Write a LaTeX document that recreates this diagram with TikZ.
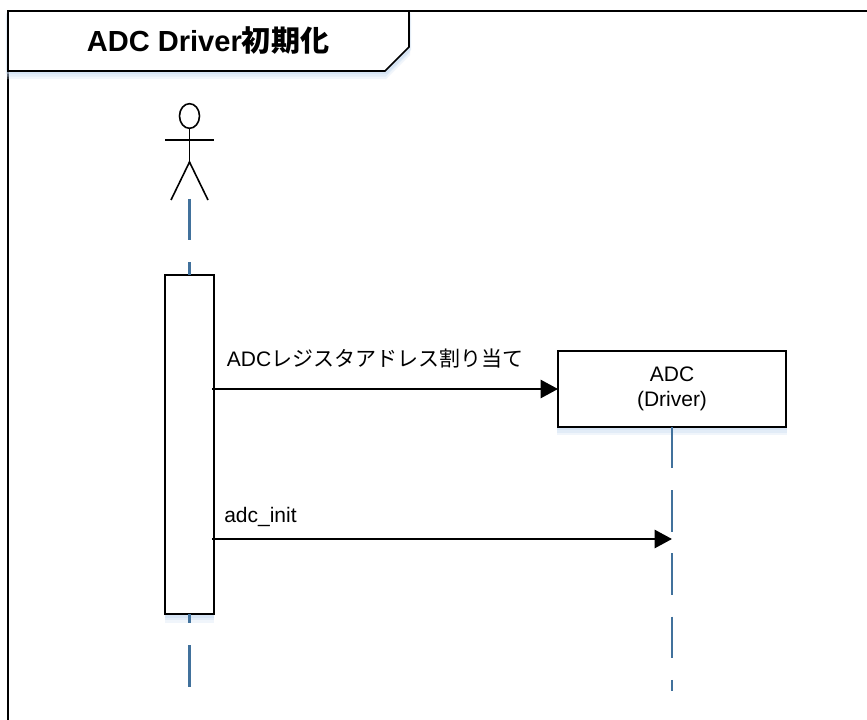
\documentclass[tikz,border=0pt]{standalone}
\usepackage{fontspec}
\setmainfont{Liberation Sans}
\newfontfamily\cjk{Noto Sans CJK JP}
\usetikzlibrary{arrows.meta,shadows,shapes.geometric}
\definecolor{lifeblue}{HTML}{41719C}
\definecolor{glowblue}{HTML}{C4D8F0}
\tikzset{
  softshadow/.style={
    drop shadow={shadow xshift=0pt, shadow yshift=-6pt, shadow scale=1.005, fill=glowblue, opacity=0.25},
    drop shadow={shadow xshift=0pt, shadow yshift=-4pt, shadow scale=1.005, fill=glowblue, opacity=0.3},
    drop shadow={shadow xshift=0pt, shadow yshift=-2pt, shadow scale=1.01, fill=glowblue, opacity=0.4}},
  boxline/.style={draw=black, line width=1.5pt, fill=white, inner sep=0pt, outer sep=0pt, softshadow},
  lifeline/.style={draw=lifeblue, line width=1.8pt, dash pattern=on 31pt off 16.4pt},
  figure/.style={draw=black, line width=1.2pt},
  message/.style={draw=black, line width=2pt, -{Triangle[length=13pt,width=13.5pt]}},
  msglabel/.style={font=\fontsize{15.75pt}{19pt}\selectfont, inner sep=0pt, align=center}
}
\begin{document}
\begin{tikzpicture}[x=0.75pt, y=-0.75pt]
  \useasboundingbox[fill=white] (0,0) rectangle (867,720);

  % Frame and title
  \draw[black, line width=1.2pt] (8,720) -- (8,11) -- (867,11);
  \draw[black, line width=1.2pt, fill=white, softshadow] (8,11) -- (409,11) -- (409,47) -- (385,71) -- (8,71) -- cycle;
  \node[font=\fontsize{21.8pt}{25pt}\selectfont\bfseries, inner sep=0pt] (title) at (208,41) {ADC Driver{\cjk 初期化}};

  % Actor
  \coordinate (hip) at (189.5,162);
  \coordinate (actorEnd) at (189.5,199);
  \node[figure, ellipse, minimum width=15pt, minimum height=18.5pt, inner sep=0pt, outer sep=0pt] (head) at (189.5,116) {};
  \draw[figure] (head.south) -- (hip);
  \draw[figure] (165,140) -- (214,140);
  \draw[figure] (171,200) -- (hip) -- (208,200);

  % Lifeline boxes
  \node[boxline, minimum width=36.75pt, minimum height=254.25pt] (bar) at (189.5,444.5) {};
  \node[boxline, minimum width=171pt, minimum height=57pt, msglabel] (adc) at (672,389) {ADC\\(Driver)};

  % Lifelines
  \coordinate (actorBottom) at (189.5,688);
  \coordinate (adcBottom) at (672,691);
  \draw[lifeline] (actorEnd) -- (bar.north);
  \draw[lifeline, dash phase=24pt] (bar.south) -- (actorBottom);
  \draw[lifeline] (adc.south) -- (adcBottom);

  % Messages
  \coordinate (call1) at (212,389);
  \coordinate (call2) at (212,539);
  \coordinate (hit2) at (672,539);
  \draw[message] (call1) -- (adc.west);
  \draw[message] (call2) -- (hit2);
  \node[msglabel] (label1) at (375,359) {ADC{\cjk レジスタアドレス割り当て}};
  \node[msglabel, anchor=base west] (label2) at (224,522) {adc\_init};
\end{tikzpicture}
\end{document}
